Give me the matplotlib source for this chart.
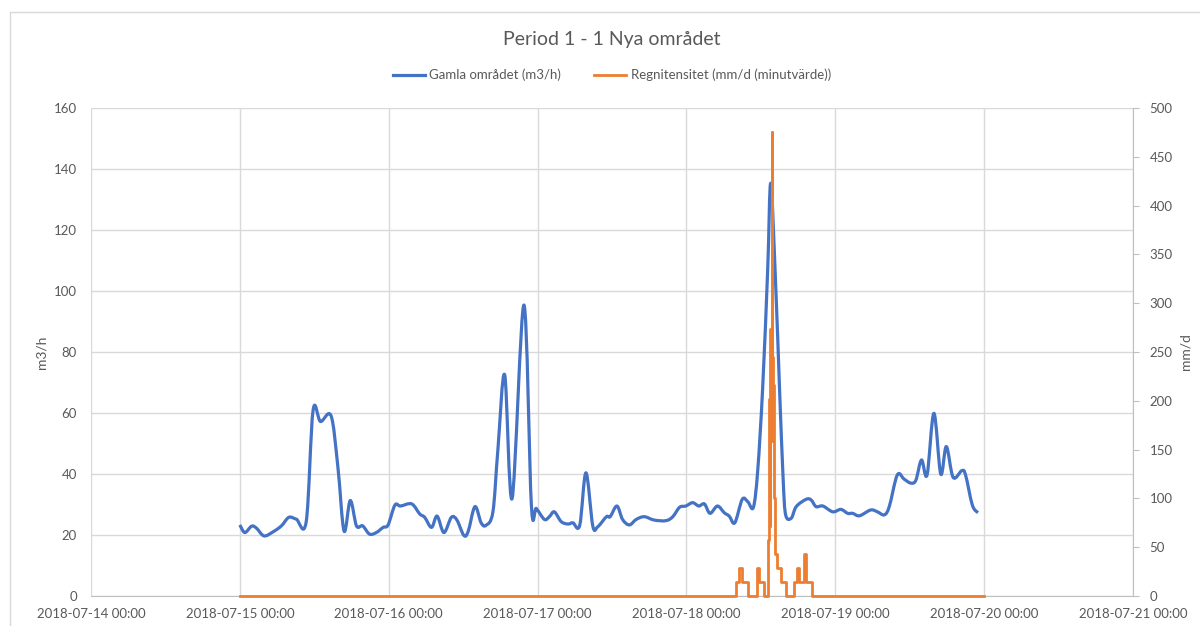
import matplotlib.pyplot as plt
import matplotlib.dates as mdates
from matplotlib.patches import Rectangle, PathPatch
from matplotlib.path import Path
import numpy as np

plt.rcParams['font.family'] = ['Lato', 'DejaVu Sans']

start = np.datetime64('2018-07-15T00:00')

# flow, old area (m3/h) - hours after 2018-07-15 00:00
flow_h = [0.0, 0.8, 1.9, 2.7, 3.9, 5.4, 6.7, 7.9, 9.1, 10.7, 11.8, 13.0, 14.7, 15.8,
          16.8, 17.8, 18.8, 19.8, 20.9, 22.0, 23.1, 23.9, 25.0, 25.9, 27.7, 29.0, 29.8,
          30.9, 31.8, 32.9, 34.1, 35.0, 36.1, 36.8, 37.9, 38.9, 39.7, 40.8, 41.6, 42.7,
          43.9, 45.8, 47.0, 47.8, 49.1, 49.9, 50.7, 51.8, 52.9, 53.7, 54.8, 55.8, 56.9,
          57.7, 59.1, 59.7, 60.8, 61.7, 62.8, 63.9, 65.2, 66.8, 68.7, 69.8, 70.9, 71.9,
          73.0, 74.0, 74.9, 75.8, 77.0, 78.1, 78.9, 79.8, 81.0, 81.9, 82.8, 83.5, 84.3,
          85.1, 85.6, 86.4, 87.0, 87.6, 88.0, 88.9, 89.7, 91.3, 92.1, 92.9, 94.0, 95.6,
          96.9, 98.0, 98.8, 99.9, 101.7, 102.8, 103.9, 104.7, 106.0, 107.1, 108.2, 109.0,
          109.9, 110.8, 111.9, 113.0, 113.9, 115.0, 116.4, 117.0, 118.1, 119.0]
flow = [23.3, 20.8, 22.9, 22.2, 19.7, 21.1, 23.0, 25.8, 25.2, 24.4, 60.8, 57.2, 59.1, 42.4,
        21.3, 31.3, 23.0, 23.0, 20.3, 20.8, 22.5, 23.3, 29.8, 29.5, 30.2, 26.9, 25.8,
        22.5, 26.2, 20.8, 25.8, 24.9, 19.9, 21.1, 29.3, 24.0, 23.2, 27.6, 47.9, 72.5,
        32.0, 95.4, 29.8, 28.7, 25.1, 26.0, 27.6, 24.4, 23.6, 24.0, 23.2, 40.4, 23.0,
        22.7, 26.0, 26.0, 29.5, 25.1, 23.3, 25.1, 26.0, 24.9, 24.7, 26.0, 29.1, 29.5,
        30.6, 29.5, 30.2, 27.1, 29.5, 27.3, 26.2, 24.0, 31.7, 30.9, 29.1, 41.3, 68.6,
        106.9, 135.3, 101.4, 68.6, 38.0, 26.6, 25.5, 29.3, 31.7, 31.5, 29.3, 29.5, 27.6,
        28.4, 27.1, 27.1, 26.3, 28.2, 27.6, 26.6, 29.3, 39.7, 38.3, 37.0, 38.0,
        44.6, 39.7, 59.9, 40.0, 49.0, 38.9, 41.1, 39.7, 29.8, 27.3]

# rain intensity (mm/d, minute values) - hours where the value changes
rain_h = [0.0, 80.0, 80.55, 81.0, 81.87, 83.38, 83.76, 84.56, 85.2, 85.3, 85.4, 85.5,
          85.6, 85.72, 85.8, 85.9, 86.0, 86.1, 86.25, 86.6, 87.2, 88.0, 89.4, 89.8,
          90.1, 90.95, 91.2, 92.3, 120.0]
rain = [0.0, 14.4, 28.8, 14.4, 0.0, 28.8, 14.4, 0.0, 57.6, 201.6, 72.0, 273.6,
        158.4, 475.2, 244.8, 187.2, 216.0, 100.8, 43.2, 28.8, 14.4, 0.0, 14.4, 28.8,
        14.4, 43.2, 14.4, 0.0, 0.0]

t_flow = start + (np.array(flow_h) * 60).astype('timedelta64[m]')
t_rain = start + (np.array(rain_h) * 60).astype('timedelta64[m]')

blue = '#4472C4'
orange = '#ED7D31'
grid = '#D9D9D9'
txt = '#595959'


def smooth_path(x, y):
    # spreadsheet-style smoothed line: cubic bezier through every point
    p = np.column_stack([x, y])
    pp = np.vstack([p[0], p, p[-1]])
    verts = [p[0]]
    codes = [Path.MOVETO]
    for i in range(len(p) - 1):
        c1 = pp[i + 1] + (pp[i + 2] - pp[i]) / 6
        c2 = pp[i + 2] - (pp[i + 3] - pp[i + 1]) / 6
        verts += [c1, c2, p[i + 1]]
        codes += [Path.CURVE4] * 3
    return Path(verts, codes)


fig = plt.figure(figsize=(12, 6.26), dpi=100)
ax = fig.add_axes([91/1200, 30/626, 1042/1200, 488/626])
ax2 = ax.twinx()

xf = mdates.date2num(t_flow.astype('datetime64[ms]').astype(object))
ax.add_patch(PathPatch(smooth_path(xf, flow), fill=False, ec=blue, lw=2.3,
                       joinstyle='round', zorder=3))
ax.plot([], [], color=blue, lw=2.3, label='Gamla området (m3/h)')
ax2.plot(t_rain, rain, color=orange, lw=2.0, drawstyle='steps-post', zorder=4,
         clip_on=False, label='Regnitensitet (mm/d (minutvärde))')

ax.set_xlim(np.datetime64('2018-07-14T00:00'), np.datetime64('2018-07-21T00:00'))
ax.set_ylim(0, 160)
ax2.set_ylim(0, 500)
ax.set_yticks(np.arange(0, 161, 20))
ax2.set_yticks(np.arange(0, 501, 50))
ax.xaxis.set_major_locator(mdates.DayLocator())
ax.xaxis.set_major_formatter(mdates.DateFormatter('%Y-%m-%d %H:%M'))

ax.grid(True, color=grid, lw=1)
ax.set_axisbelow(True)
for a in (ax, ax2):
    for s in ('top', 'left', 'right'):
        a.spines[s].set_visible(False)
    a.spines['bottom'].set_color('#BFBFBF')
ax2.spines['right'].set_visible(True)
ax2.spines['right'].set_color('#BFBFBF')
ax2.spines['bottom'].set_visible(False)

ax.tick_params(axis='y', length=0, pad=10, labelsize=9.5, labelcolor=txt)
ax.tick_params(axis='x', length=0, pad=9, labelsize=9.5, labelcolor=txt)
ax2.tick_params(axis='y', length=4, color='#BFBFBF', pad=8, labelsize=9.5, labelcolor=txt)

ax.set_ylabel('m3/h', color=txt, fontsize=10, labelpad=5)
ax2.set_ylabel('mm/d', color=txt, fontsize=10, rotation=90, labelpad=5)

fig.text(0.51, 1 - 40/626, 'Period 1 - 1 Nya området', ha='center', va='center',
         fontsize=14, color=txt)
h1, l1 = ax.get_legend_handles_labels()
h2, l2 = ax2.get_legend_handles_labels()
fig.legend(h1 + h2, l1 + l2, loc='center', bbox_to_anchor=(0.51, 1 - 75/626), ncol=2,
           frameon=False, fontsize=9.5, labelcolor=txt, handlelength=2.4,
           columnspacing=2.5, handletextpad=0.35)

fig.add_artist(Rectangle((10/1200, -0.1), 1.2, 1.1 - 12/626, transform=fig.transFigure,
                         fill=False, ec='#D9D9D9', lw=1))

fig.savefig('out.png', dpi=100)
